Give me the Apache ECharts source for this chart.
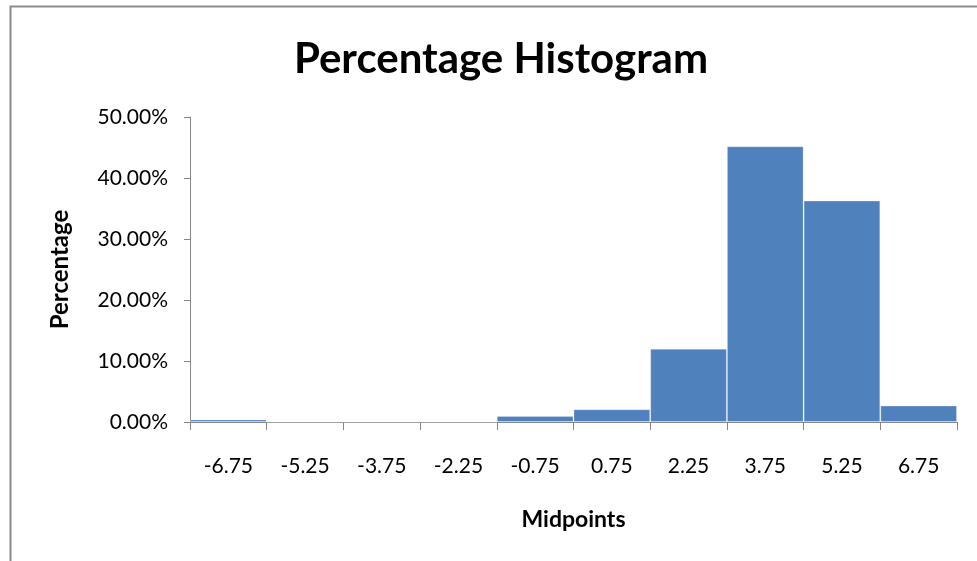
<!DOCTYPE html>
<html>
<head>
<meta charset="utf-8">
<script src="https://cdn.jsdelivr.net/npm/echarts@6/dist/echarts.min.js"></script>
<style>
  html, body { margin: 0; padding: 0; background: #fff; }
  #chart { width: 977px; height: 561px; }
</style>
</head>
<body>
<div id="chart"></div>
<script>
// histogram bins and their share (in %)
var midpoints = ['-6.75', '-5.25', '-3.75', '-2.25', '-0.75', '0.75', '2.25', '3.75', '5.25', '6.75'];
var percentages = [0.4, 0, 0, 0, 1.0, 2.1, 12.0, 45.2, 36.3, 2.7];

var chart = echarts.init(document.getElementById('chart'));
var font = 'Lato, "Open Sans", sans-serif';

var option = {
  animation: false,
  backgroundColor: '#fff',
  title: {
    text: 'Percentage Histogram',
    left: 496,
    top: 33,
    textAlign: 'center',
    textStyle: { fontFamily: font, fontSize: 42, fontWeight: 'bold', color: '#000' }
  },
  graphic: [{
    type: 'rect',
    shape: { x: 10.5, y: 6.5, width: 1000, height: 600 },
    style: { fill: null, stroke: '#8c8c8c', lineWidth: 2 },
    silent: true
  }],
  grid: { left: 190, right: 20, top: 117, bottom: 139 },
  xAxis: {
    type: 'category',
    data: midpoints,
    name: 'Midpoints',
    nameLocation: 'middle',
    nameGap: 86,
    nameTextStyle: { fontFamily: font, fontSize: 23, fontWeight: 'bold', color: '#000' },
    axisLine: { lineStyle: { color: '#868686', width: 1 } },
    axisTick: { show: true, length: 8, lineStyle: { color: '#868686' } },
    axisLabel: { margin: 34, fontFamily: font, fontSize: 21, color: '#000' }
  },
  yAxis: {
    type: 'value',
    min: 0,
    max: 50,
    interval: 10,
    name: 'Percentage',
    nameLocation: 'middle',
    nameGap: 118,
    nameRotate: 90,
    nameTextStyle: { fontFamily: font, fontSize: 24, fontWeight: 'bold', color: '#000' },
    axisLine: { show: true, lineStyle: { color: '#868686', width: 1 } },
    axisTick: { show: true, length: 6, lineStyle: { color: '#868686' } },
    splitLine: { show: false },
    axisLabel: {
      margin: 22,
      fontFamily: font,
      fontSize: 21,
      color: '#000',
      formatter: function (v) { return v.toFixed(2) + '%'; }
    }
  },
  series: [{
    type: 'bar',
    data: percentages,
    barCategoryGap: '0%',
    itemStyle: { color: '#4f81bd', borderColor: 'rgba(255,255,255,0.25)', borderWidth: 1 }
  }]
};

chart.setOption(option);
</script>
</body>
</html>
